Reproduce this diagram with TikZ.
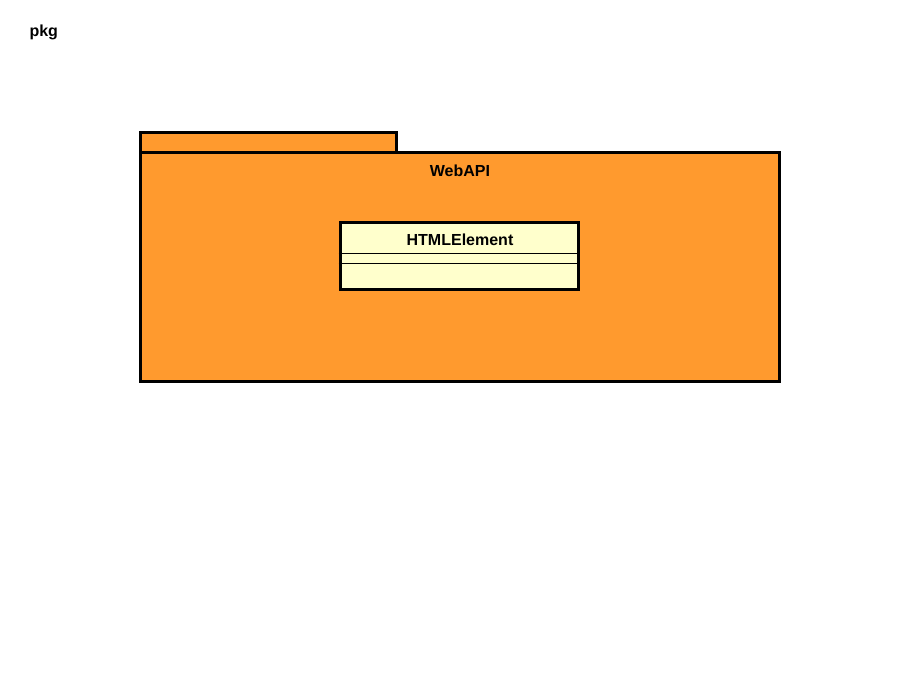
\documentclass[tikz,border=0pt]{standalone}
\usepackage{fontspec}
\setmainfont{Liberation Sans}
\usepackage{xcolor}
\usetikzlibrary{positioning,calc}

\definecolor{pkgorange}{HTML}{FF9A2E}
\definecolor{classyellow}{HTML}{FFFFCC}

\begin{document}
\begin{tikzpicture}[x=1pt, y=-1pt,
    every node/.style={font=\fontsize{16}{18}\selectfont\bfseries},
    pkgbody/.style={rectangle, draw, line width=3pt, fill=pkgorange, minimum width=639pt, minimum height=229pt, inner sep=0pt},
    pkgtab/.style={rectangle, draw, line width=3pt, fill=pkgorange, minimum width=256pt, minimum height=20pt, inner sep=0pt},
    classbox/.style={rectangle, draw, line width=3pt, fill=classyellow, minimum width=238pt, minimum height=67pt, inner sep=0pt},
    sepline/.style={line width=1.2pt}]
    \useasboundingbox (0,0) rectangle (909,693);

    % Diagram frame label
    \node[anchor=west] (frame) at (26,32) {pkg};

    % Package WebAPI
    \node[pkgtab] (tab) at (268,142) {};
    \node[pkgbody] (webapi) at (459.5,266.5) {};
    \node (webapiname) at (460,171) {WebAPI};

    % Class HTMLElement
    \node[classbox] (htmlel) at (459,255.5) {};
    \node (htmlelname) at (460,240) {HTMLElement};
    \draw[sepline] ($(htmlel.north west)+(0,33)$) -- ($(htmlel.north east)+(0,33)$);
    \draw[sepline] ($(htmlel.north west)+(0,43)$) -- ($(htmlel.north east)+(0,43)$);

\end{tikzpicture}
\end{document}
